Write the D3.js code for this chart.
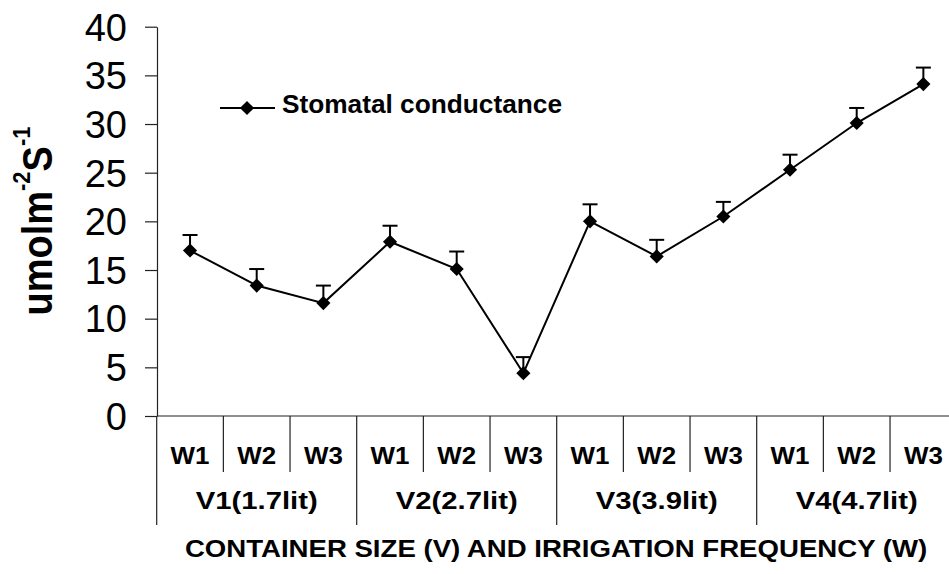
<!DOCTYPE html>
<html>
<head>
<meta charset="utf-8">
<script src="https://cdn.jsdelivr.net/npm/d3@7"></script>
<style>
  body { margin: 0; background: #fff; }
  svg text { font-family: "Liberation Sans", Arial, sans-serif; fill: #000; }
</style>
</head>
<body>
<div class="chart"></div>
<script>
(function(){
var groups = ["V1(1.7lit)", "V2(2.7lit)", "V3(3.9lit)", "V4(4.7lit)"];
var levels = ["W1", "W2", "W3"];
var values = [17.0, 13.4, 11.6, 17.9, 15.1, 4.4, 20.0, 16.4, 20.5, 25.3, 30.1, 34.1];
var errors = [1.6, 1.7, 1.8, 1.65, 1.8, 1.65, 1.75, 1.7, 1.5, 1.55, 1.55, 1.7];
var yTicks = [0, 5, 10, 15, 20, 25, 30, 35, 40];
var seriesName = "Stomatal conductance";
var xTitle = "CONTAINER SIZE (V) AND IRRIGATION FREQUENCY (W)";

  var cells = [];
  groups.forEach(function(g, gi){
    levels.forEach(function(w, wi){
      cells.push({id: gi + '-' + wi, group: g, gi: gi, level: w, wi: wi});
    });
  });
  cells.forEach(function(c, i){ c.value = values[i]; c.err = errors[i]; });

  var svg = d3.select('.chart').append('svg').attr('width', 949).attr('height', 574);

  var x = d3.scaleBand().domain(cells.map(function(c){ return c.id; })).range([156.7, 956.7]).padding(0);
  var y = d3.scaleLinear().domain([0, 40]).range([416, 26.7]);

  // y axis
  var yAxis = svg.append('g').attr('transform', 'translate(157,0)')
    .call(d3.axisLeft(y).tickValues(yTicks).tickSize(12).tickSizeOuter(0).tickPadding(18));
  yAxis.select('.domain').attr('stroke', '#222').attr('stroke-width', 1.2);
  yAxis.selectAll('.tick line').attr('stroke', '#222').attr('stroke-width', 1.2);
  yAxis.selectAll('.tick text').attr('font-size', 38).attr('font-family', '"Liberation Sans", Arial, sans-serif')
    .attr('dy', '0.35em').attr('fill', '#000');

  // x axis line
  svg.append('line').attr('x1', 157).attr('x2', 949).attr('y1', 416).attr('y2', 416)
    .attr('stroke', '#222').attr('stroke-width', 1.2);

  // separators
  svg.selectAll('.sep').data(cells).enter().append('line')
    .attr('class', 'sep')
    .attr('x1', function(d){ return x(d.id); })
    .attr('x2', function(d){ return x(d.id); })
    .attr('y1', 416)
    .attr('y2', function(d){ return d.wi === 0 ? 525 : 472; })
    .attr('stroke', '#222').attr('stroke-width', 1.2);

  // W labels
  svg.selectAll('.wlab').data(cells).enter().append('text')
    .attr('class', 'wlab')
    .attr('transform', function(d){ return 'translate(' + (x(d.id) + x.bandwidth() / 2) + ',464) scale(1.08,1)'; })
    .attr('text-anchor', 'middle').attr('font-size', 24).attr('font-weight', 'bold')
    .text(function(d){ return d.level; });

  // V labels
  svg.selectAll('.vlab').data(groups).enter().append('text')
    .attr('class', 'vlab')
    .attr('transform', function(d, i){
      var cx = x(i + '-0') + x.bandwidth() * 1.5;
      return 'translate(' + cx + ',509) scale(1.22,1)';
    })
    .attr('text-anchor', 'middle').attr('font-size', 24).attr('font-weight', 'bold')
    .text(function(d){ return d; });

  // x title
  svg.append('text').attr('transform', 'translate(556,557) scale(1.2,1)')
    .attr('text-anchor', 'middle').attr('font-size', 23).attr('font-weight', 'bold')
    .text(xTitle);

  // y label
  var yl = svg.append('text').attr('transform', 'translate(52,221) rotate(-90) scale(1,1.12)')
    .attr('text-anchor', 'middle').attr('font-size', 38).attr('font-weight', 'bold');
  yl.append('tspan').text('umolm');
  yl.append('tspan').attr('font-size', 22).attr('dy', -20).text('-2');
  yl.append('tspan').attr('dy', 20).text('S');
  yl.append('tspan').attr('font-size', 22).attr('dy', -20).text('-1');

  function cx(d){ return x(d.id) + x.bandwidth() / 2; }

  // error bars (upper only)
  var eb = svg.append('g');
  eb.selectAll('.ev').data(cells).enter().append('line')
    .attr('x1', cx).attr('x2', cx)
    .attr('y1', function(d){ return y(d.value); })
    .attr('y2', function(d){ return y(d.value + d.err); })
    .attr('stroke', '#000').attr('stroke-width', 2);
  eb.selectAll('.ec').data(cells).enter().append('line')
    .attr('x1', function(d){ return cx(d) - 7.5; }).attr('x2', function(d){ return cx(d) + 7.5; })
    .attr('y1', function(d){ return y(d.value + d.err); })
    .attr('y2', function(d){ return y(d.value + d.err); })
    .attr('stroke', '#000').attr('stroke-width', 2);

  // line
  var line = d3.line().x(cx).y(function(d){ return y(d.value); });
  svg.append('path').datum(cells).attr('d', line)
    .attr('fill', 'none').attr('stroke', '#000').attr('stroke-width', 2);

  var diamond = d3.symbol().type(d3.symbolSquare).size(100);
  svg.selectAll('.pt').data(cells).enter().append('path')
    .attr('d', diamond)
    .attr('transform', function(d){ return 'translate(' + cx(d) + ',' + y(d.value) + ') rotate(45)'; })
    .attr('fill', '#000');

  // legend
  var lg = svg.append('g');
  lg.append('line').attr('x1', 220).attr('x2', 275).attr('y1', 108).attr('y2', 108)
    .attr('stroke', '#000').attr('stroke-width', 2);
  lg.append('path').attr('d', diamond).attr('transform', 'translate(247,108) rotate(45)').attr('fill', '#000');
  lg.append('text').attr('transform', 'translate(282,113) scale(1.05,1)')
    .attr('font-size', 25).attr('font-weight', 'bold').text(seriesName);
})();
</script>
</body>
</html>
